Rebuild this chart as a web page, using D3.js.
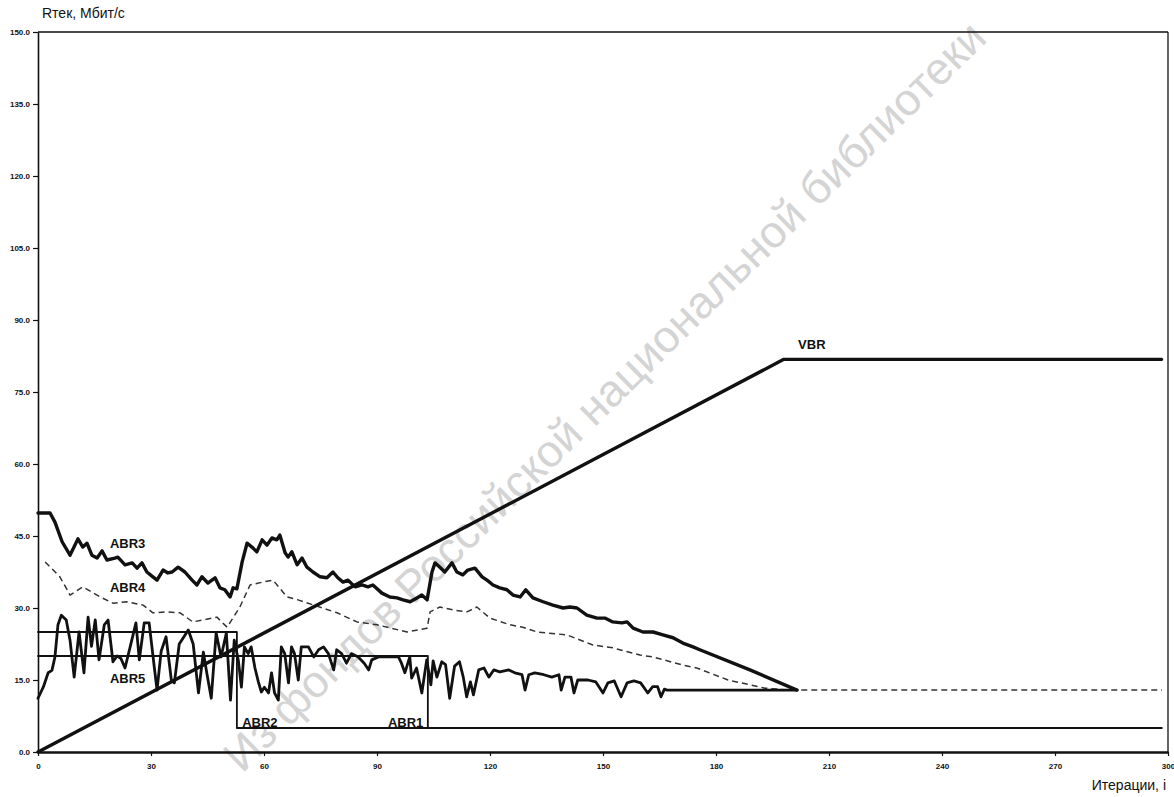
<!DOCTYPE html>
<html>
<head>
<meta charset="utf-8">
<script src="https://cdn.jsdelivr.net/npm/d3@7"></script>
<style>
  body { margin: 0; background: #fff; }
  svg text { font-family: "Liberation Sans", Arial, sans-serif; }
</style>
</head>
<body>
<svg id="chart" width="1174" height="797"></svg>
<script>
// Axis ticks
const xTicks = [0, 30, 60, 90, 120, 150, 180, 210, 240, 270, 300];
const yTicks = [0, 15, 30, 45, 60, 75, 90, 105, 120, 135, 150];

// Series: [iteration, rate in Mbit/s]
const vbr = [[0, 0], [198, 81.8], [298.3, 81.8]];
const abr1 = [[0, 20], [103.5, 20], [103.5, 5], [298.3, 5]];
const abr2 = [[0, 25], [52.8, 25], [52.8, 5], [298.3, 5]];

const abr3 = [
  [0, 49.8], [3.2, 49.8], [4.5, 47.9], [6.4, 43.8], [8.5, 41.0], [10.6, 44.4], [11.9, 42.7],
  [13.0, 43.5], [14.3, 41.0], [15.7, 40.4], [17.0, 41.9], [18.3, 40.0], [20.4, 40.4],
  [21.2, 40.6], [23.1, 39.0], [25.0, 39.4], [26.3, 38.3], [27.6, 39.4], [28.9, 37.5],
  [30.5, 36.5], [31.6, 35.8], [33.2, 37.9], [34.5, 37.3], [35.6, 37.5], [37.2, 38.5],
  [39.0, 37.5], [40.9, 35.8], [42.2, 34.8], [43.5, 36.5], [45.1, 35.2], [47.0, 36.3],
  [48.3, 34.2], [49.6, 33.8], [51.0, 32.3], [51.8, 34.2], [52.8, 34.0], [54.2, 39.6],
  [55.5, 43.5], [56.8, 42.7], [58.1, 41.7], [59.5, 44.2], [60.8, 43.1], [62.1, 44.6],
  [63.4, 44.2], [64.2, 45.2], [65.6, 41.5], [66.4, 40.6], [67.4, 41.7], [68.8, 39.0],
  [70.1, 40.4], [71.4, 38.5], [73.0, 37.5], [74.9, 36.5], [76.7, 36.3], [78.3, 37.5],
  [79.6, 36.3], [81.0, 35.4], [82.3, 35.8], [84.2, 34.4], [86.0, 34.8], [87.6, 34.4],
  [88.9, 34.8], [91.3, 33.1], [93.4, 32.3], [95.3, 32.1], [96.9, 31.7], [98.8, 31.3],
  [100.6, 32.1], [101.9, 32.7], [103.3, 31.7], [104.6, 37.5], [105.4, 39.4], [106.7, 38.5],
  [108.0, 37.5], [109.9, 39.4], [111.2, 37.5], [112.8, 36.9], [114.1, 37.9], [116.0, 38.3],
  [117.9, 36.5], [119.2, 35.8], [120.8, 34.8], [122.6, 34.2], [124.5, 33.8], [126.1, 32.7],
  [128.0, 32.3], [129.5, 33.8], [131.4, 32.1], [134.1, 31.3], [136.7, 30.6], [139.4, 30.0],
  [141.2, 30.2], [143.1, 30.0], [145.7, 28.5], [148.4, 27.9], [150.5, 27.9], [152.6, 27.1],
  [155.0, 26.9], [156.4, 27.1], [158.0, 25.8], [160.6, 25.0], [163.3, 25.0], [165.9, 24.4],
  [168.6, 23.8], [171.2, 22.7], [173.9, 21.9], [175.7, 21.3], [189.0, 17.1], [201.5, 12.9]
];

const abr4 = [
  [1.9, 39.6], [5.8, 36.5], [8.5, 32.7], [11.9, 34.4], [16.5, 32.3], [19.9, 31.0],
  [23.6, 31.3], [27.9, 30.6], [30.5, 29.0], [34.2, 29.2], [37.7, 29.0], [41.1, 27.1],
  [47.5, 28.1], [50.2, 26.0], [53.6, 30.2], [56.3, 34.8], [59.7, 35.4], [62.4, 35.8],
  [66.1, 32.3], [69.0, 31.7], [79.4, 29.0], [84.7, 27.1], [90.0, 26.5], [98.0, 25.0],
  [103.3, 25.8], [104.1, 29.2], [106.7, 30.2], [110.2, 29.6], [113.9, 29.2], [116.5, 30.2],
  [120.0, 27.9], [125.3, 26.5], [128.7, 26.0], [132.5, 25.0], [140.4, 24.4], [147.3, 22.3],
  [152.6, 21.7], [159.8, 20.2], [163.3, 19.8], [171.2, 18.1], [174.9, 17.5], [183.2, 15.0],
  [193.0, 13.3], [199.6, 12.9], [298.4, 12.9]
];

const abr5 = [
  [0, 11.2], [1.4, 13.5], [2.7, 16.5], [3.7, 17.0], [4.5, 19.8], [5.3, 26.5], [6.2, 28.5],
  [7.5, 27.5], [8.5, 23.3], [9.6, 15.6], [10.9, 25.0], [12.2, 16.5], [13.3, 28.1],
  [14.2, 22.0], [15.2, 27.5], [16.2, 19.2], [17.6, 26.5], [18.6, 27.5], [19.9, 18.8],
  [21.0, 20.0], [22.0, 19.5], [23.1, 17.5], [24.5, 22.0], [26.0, 26.9], [26.9, 19.2],
  [28.2, 26.9], [29.5, 26.9], [30.9, 17.5], [31.6, 12.9], [32.7, 21.0], [34.0, 24.0],
  [35.4, 15.0], [36.2, 14.4], [37.5, 22.5], [39.9, 25.4], [41.2, 22.5], [42.6, 12.3],
  [43.9, 20.8], [44.8, 16.5], [46.0, 11.2], [47.3, 24.8], [48.6, 19.8], [50.0, 24.8],
  [51.1, 10.8], [52.1, 23.3], [53.2, 19.0], [54.0, 13.5], [54.8, 21.9], [55.8, 20.5],
  [56.6, 21.9], [57.6, 17.5], [58.5, 14.6], [59.3, 12.5], [60.1, 13.5], [61.2, 12.3],
  [62.0, 16.5], [62.8, 12.3], [63.8, 10.8], [64.6, 21.9], [65.5, 20.5], [66.5, 14.4],
  [67.3, 21.9], [68.1, 20.5], [69.1, 15.0], [69.9, 21.9], [71.8, 21.9], [73.2, 19.8],
  [74.5, 21.3], [75.8, 21.9], [77.1, 20.5], [78.5, 17.1], [79.3, 21.3], [80.6, 20.5],
  [81.9, 18.5], [83.2, 20.5], [85.0, 19.8], [86.6, 18.5], [87.8, 17.1], [88.6, 19.2],
  [90.4, 19.8], [92.0, 19.8], [93.9, 19.8], [95.7, 19.8], [96.5, 18.5], [97.4, 16.5],
  [98.7, 19.8], [99.2, 15.4], [100.5, 17.5], [101.9, 12.3], [103.2, 19.2], [104.3, 14.0],
  [104.9, 19.0], [105.9, 15.6], [107.2, 18.8], [108.2, 18.2], [109.3, 11.2], [110.6, 17.9],
  [111.9, 18.8], [112.9, 15.6], [113.8, 11.5], [114.8, 14.6], [115.6, 11.9], [117.0, 17.1],
  [118.4, 17.5], [119.7, 15.6], [121.0, 17.1], [122.6, 16.7], [125.0, 17.1], [126.6, 16.5],
  [128.5, 16.1], [129.3, 12.9], [130.3, 16.1], [131.9, 16.5], [134.3, 16.1], [136.4, 15.6],
  [138.3, 16.1], [138.9, 12.9], [139.9, 15.6], [141.5, 15.6], [142.3, 12.3], [143.3, 15.0],
  [146.0, 15.0], [148.1, 14.6], [150.0, 12.3], [151.3, 14.4], [153.0, 14.8], [154.8, 11.5],
  [156.4, 14.4], [158.2, 14.8], [160.0, 14.4], [161.9, 12.3], [163.2, 13.6], [164.5, 13.6],
  [165.4, 11.5], [166.3, 13.1], [167.0, 12.9], [201.5, 12.9]
];

const svg = d3.select("#chart");

const x = d3.scaleLinear().domain([0, 300]).range([38, 1168]);
const y = d3.scaleLinear().domain([0, 150]).range([752, 32]);

// Library stamp running diagonally behind the plot
svg.append("text")
  .attr("transform", `translate(242,774) rotate(-44.5)`)
  .attr("font-size", 45)
  .attr("fill", "#d4d4d4")
  .text("Из фондов Российской национальной библиотеки");

// Frame: top and right edges
svg.append("line").attr("x1", x(0)).attr("x2", x(300)).attr("y1", y(150)).attr("y2", y(150))
  .attr("stroke", "#111").attr("stroke-width", 1.3);
svg.append("line").attr("x1", x(300)).attr("x2", x(300)).attr("y1", y(150)).attr("y2", y(0))
  .attr("stroke", "#111").attr("stroke-width", 1.3);

// Axes
const yAxis = svg.append("g").attr("transform", `translate(${x(0)},0)`)
  .call(d3.axisLeft(y).tickValues(yTicks).tickFormat(d3.format(".1f")).tickSize(5).tickSizeOuter(0));
yAxis.select(".domain").attr("stroke", "#111").attr("stroke-width", 1.6);
yAxis.selectAll(".tick line").attr("stroke", "#111").attr("stroke-width", 1.2);
yAxis.selectAll(".tick text").attr("font-size", 8).attr("font-weight", "bold").attr("fill", "#111")
  .attr("x", -8);

const xAxis = svg.append("g").attr("transform", `translate(0,${y(0)})`)
  .call(d3.axisBottom(x).tickValues(xTicks).tickFormat(d3.format("d")).tickSize(4).tickSizeOuter(0));
xAxis.select(".domain").attr("stroke", "#111").attr("stroke-width", 2.6);
xAxis.selectAll(".tick line").attr("stroke", "#111").attr("stroke-width", 1.2);
xAxis.selectAll(".tick text").attr("font-size", 8).attr("font-weight", "bold").attr("fill", "#111")
  .attr("y", 11);

// Axis titles
svg.append("text").attr("x", 42).attr("y", 18).attr("font-size", 14).attr("fill", "#111")
  .text("Rтек,  Мбит/с");
svg.append("text").attr("x", 1166).attr("y", 790).attr("font-size", 14).attr("fill", "#111")
  .attr("text-anchor", "end").text("Итерации, i");

// Lines
const line = d3.line().x(d => x(d[0])).y(d => y(d[1]));
const draw = (data, width, extra) => {
  const p = svg.append("path").datum(data).attr("d", line)
    .attr("fill", "none").attr("stroke", "#111").attr("stroke-width", width)
    .attr("stroke-linejoin", "round").attr("stroke-linecap", "round");
  if (extra) extra(p);
  return p;
};

draw(abr4, 1.5, p => p.attr("stroke", "#333").attr("stroke-dasharray", "6,4").attr("stroke-linecap", "butt"));
draw(abr1, 1.8);
draw(abr2, 1.8);
draw(abr5, 2.8);
draw(abr3, 3.4);
draw(vbr, 3.4);

// Series labels
const labels = [
  { t: "ABR3", x: 19.1, y: 42.6 },
  { t: "ABR4", x: 19.1, y: 33.3 },
  { t: "ABR5", x: 19.1, y: 14.4 },
  { t: "ABR2", x: 54.2, y: 5.3 },
  { t: "ABR1", x: 92.9, y: 5.3 },
  { t: "VBR",  x: 201.8, y: 84.0 }
];
svg.selectAll("text.series").data(labels).enter().append("text")
  .attr("class", "series")
  .attr("x", d => x(d.x)).attr("y", d => y(d.y))
  .attr("font-size", 13).attr("font-weight", "bold").attr("fill", "#111")
  .text(d => d.t);
</script>
</body>
</html>
